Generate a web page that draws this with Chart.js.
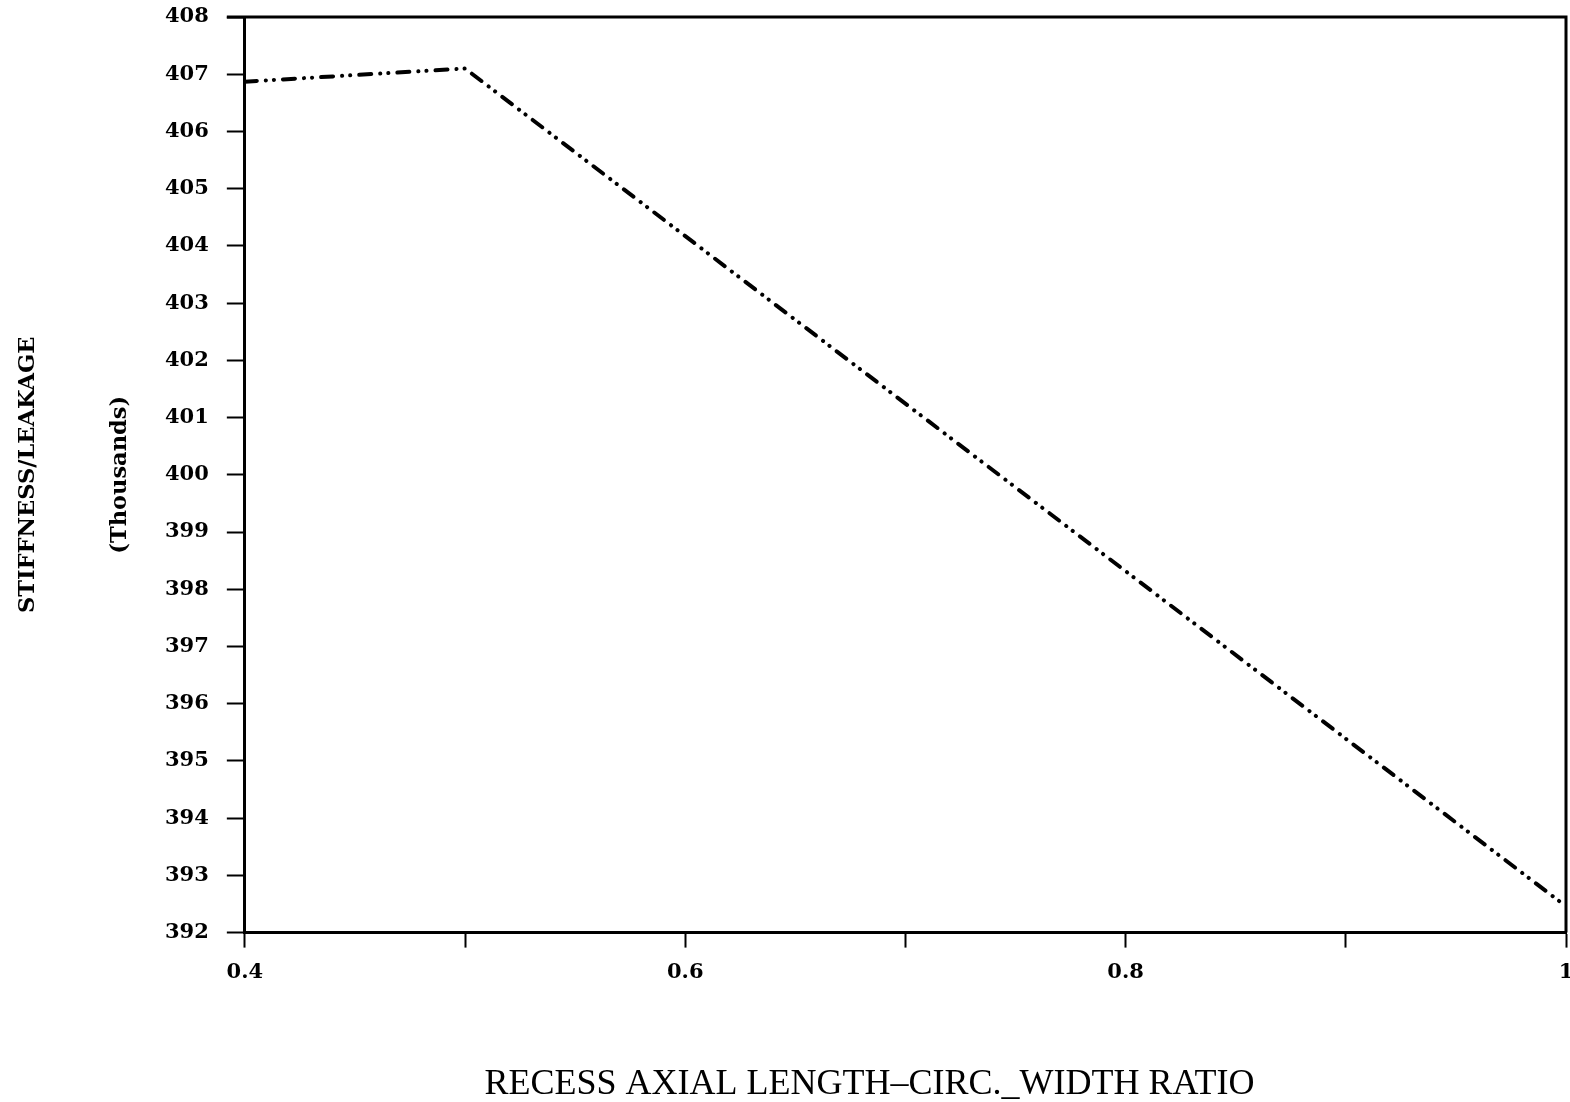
<!DOCTYPE html>
<html>
<head>
<meta charset="utf-8">
<title>Stiffness/Leakage vs recess ratio</title>
<script src="https://cdn.jsdelivr.net/npm/chart.js@4.4.1/dist/chart.umd.min.js"></script>
<style>
  html, body { margin: 0; padding: 0; background: #fff; }
  #wrap { width: 1570px; height: 1102px; position: relative; }
</style>
</head>
<body>
<div id="wrap"><canvas id="chart"></canvas></div>
<script>
  // Values
  const ratio = [0.4, 0.5, 1.0];
  const stiffnessPerLeakage = [406.87, 407.1, 392.46];   // thousands
  const xLabelled = [0.4, 0.6, 0.8, 1];
  const yTitle = ['STIFFNESS/LEAKAGE', '(Thousands)'];
  const xTitle = 'RECESS AXIAL LENGTH\u2013CIRC._WIDTH RATIO        ';

  const INK = '#000';
  const TICK_FONT = { family: "'DejaVu Serif', serif", weight: 'bold', size: 21 };

  // Close the frame: top and right edges of the plot box
  const frame = {
    id: 'frame',
    afterDatasetsDraw(chart) {
      const { ctx, chartArea: a } = chart;
      ctx.save();
      ctx.strokeStyle = INK;
      ctx.lineWidth = 3;
      ctx.beginPath();
      ctx.moveTo(a.left - 18, a.top);
      ctx.lineTo(a.right, a.top);
      ctx.lineTo(a.right, a.bottom);
      ctx.stroke();
      ctx.restore();
    }
  };

  new Chart(document.getElementById('chart'), {
    type: 'line',
    data: {
      datasets: [{
        data: ratio.map((x, i) => ({ x, y: stiffnessPerLeakage[i] })),
        borderColor: INK,
        borderWidth: 4,
        borderDash: [12, 9, 0.1, 8, 0.1, 9],
        borderCapStyle: 'round',
        pointRadius: 0,
        tension: 0,
        fill: false,
      }],
    },
    options: {
      responsive: true,
      maintainAspectRatio: false,
      animation: false,
      layout: { padding: 0 },
      plugins: { legend: { display: false }, tooltip: { enabled: false } },
      scales: {
        x: {
          type: 'linear',
          min: 0.4, max: 1,
          border: { color: INK, width: 3 },
          grid: { drawOnChartArea: false, tickLength: 15, tickWidth: 2, tickColor: INK },
          afterFit: (s) => { s.paddingRight = 4; },
          ticks: {
            stepSize: 0.1, autoSkip: false, maxRotation: 0, padding: 12,
            color: INK, font: TICK_FONT,
            callback: (v) => {
              const r = Math.round(v * 10) / 10;
              return xLabelled.includes(r) ? String(r) : '';
            },
          },
          title: {
            display: true, text: xTitle, color: INK,
            font: { family: "'Liberation Serif', serif", size: 36 },
            padding: { top: 66, bottom: -4 },
          },
        },
        y: {
          min: 392, max: 408,
          border: { color: INK, width: 3 },
          grid: { drawOnChartArea: false, tickLength: 18, tickWidth: 2, tickColor: INK },
          afterFit: (s) => { s.paddingTop = 17; },
          ticks: { stepSize: 1, padding: 18, color: INK, font: TICK_FONT },
          title: {
            display: true, text: yTitle, color: INK,
            font: { family: "'DejaVu Serif', serif", weight: 'bold', size: 22.5, lineHeight: 92 / 22.5 },
            padding: { top: -18, bottom: -19 },
          },
        },
      },
    },
    plugins: [frame],
  });
</script>
</body>
</html>
